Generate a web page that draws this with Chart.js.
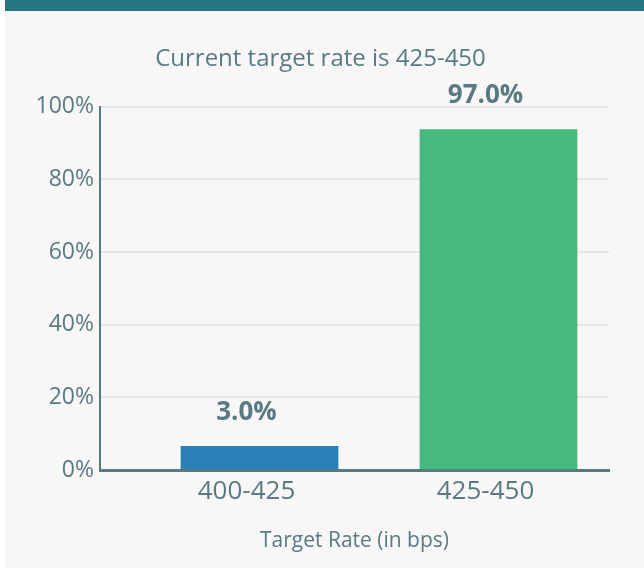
<!DOCTYPE html>
<html>
<head>
<meta charset="utf-8">
<title>Current target rate</title>
<script src="https://cdn.jsdelivr.net/npm/chart.js@4.4.1/dist/chart.umd.min.js"></script>
<style>
  body { margin: 0; background: #fff; }
  .card {
    position: absolute; left: 5px; top: 0;
    width: 639px; height: 568px;
    background: #f7f7f7;
    border-top: 11px solid #277584;
    box-sizing: border-box;
  }
  canvas { display: block; }
</style>
</head>
<body>
<div class="card"><canvas id="rateChart" width="639" height="557"></canvas></div>
<script>
// values
const categories = ['400-425', '425-450'];
const barHeights = [6.6, 93.8];      // bar tops as drawn
const probabilities = [3.0, 97.0];   // printed above the bars
const barColors = ['#2980b9', '#47b97c'];
const yTickValues = [0, 20, 40, 60, 80, 100];

const slate = '#5a7a82';
const labelShift = -13;

const barLabels = {
    id: 'barLabels',
    afterDatasetsDraw(chart) {
        const ctx = chart.ctx;
        const meta = chart.getDatasetMeta(0);
        ctx.save();
        ctx.font = 'bold 26px "Open Sans"';
        ctx.fillStyle = slate;
        ctx.textAlign = 'center';
        ctx.textBaseline = 'alphabetic';
        meta.data.forEach((bar, i) => {
            ctx.fillText(probabilities[i].toFixed(1) + '%', bar.x + labelShift, bar.y - 26);
        });
        ctx.restore();
    }
};

window.addEventListener('DOMContentLoaded', () => {
    const ctx = document.getElementById('rateChart').getContext('2d');

    new Chart(ctx, {
        type: 'bar',
        data: {
            datasets: [{
                data: categories.map((c, i) => ({ x: i, y: barHeights[i] })),
                backgroundColor: barColors,
                barPercentage: 0.66,
                categoryPercentage: 1
            }]
        },
        options: {
            responsive: false,
            animation: false,
            devicePixelRatio: 1,
            layout: { padding: { top: 0, left: 27, right: 35, bottom: 0 } },
            plugins: {
                legend: { display: false },
                tooltip: { enabled: false },
                title: {
                    display: true,
                    text: 'Current target rate is 425-450',
                    color: slate,
                    font: { family: 'Open Sans', size: 24, weight: 'normal' },
                    padding: { top: 34, bottom: 33 }
                }
            },
            scales: {
                x: {
                    type: 'linear',
                    offset: false,
                    bounds: 'data',
                    min: -0.6675,
                    max: 1.4625,
                    afterBuildTicks: scale => {
                        scale.ticks = categories.map((c, i) => ({ value: i }));
                    },
                    afterFit: scale => { scale.height = 98; },
                    grid: { display: false, drawTicks: false, offset: false },
                    border: { display: true, color: slate, width: 3 },
                    ticks: {
                        autoSkip: false,
                        maxRotation: 0,
                        padding: 6,
                        labelOffset: labelShift,
                        color: slate,
                        font: { family: 'Open Sans', size: 26 },
                        callback: v => categories[v]
                    },
                    title: {
                        display: true,
                        text: 'Target Rate (in bps)',
                        color: slate,
                        font: { family: 'Open Sans', size: 21 },
                        padding: { top: 0, bottom: 14 }
                    }
                },
                y: {
                    min: 0,
                    max: 100,
                    afterBuildTicks: scale => {
                        scale.ticks = yTickValues.map(v => ({ value: v }));
                    },
                    afterFit: scale => { scale.width = 68; },
                    grid: { color: '#e6e6e6', lineWidth: 2, drawTicks: false },
                    border: { display: true, color: slate, width: 2 },
                    ticks: {
                        padding: 6,
                        color: slate,
                        font: { family: 'Open Sans', size: 23 },
                        callback: v => v + '%'
                    }
                }
            }
        },
        plugins: [barLabels]
    });
});
</script>
</body>
</html>
